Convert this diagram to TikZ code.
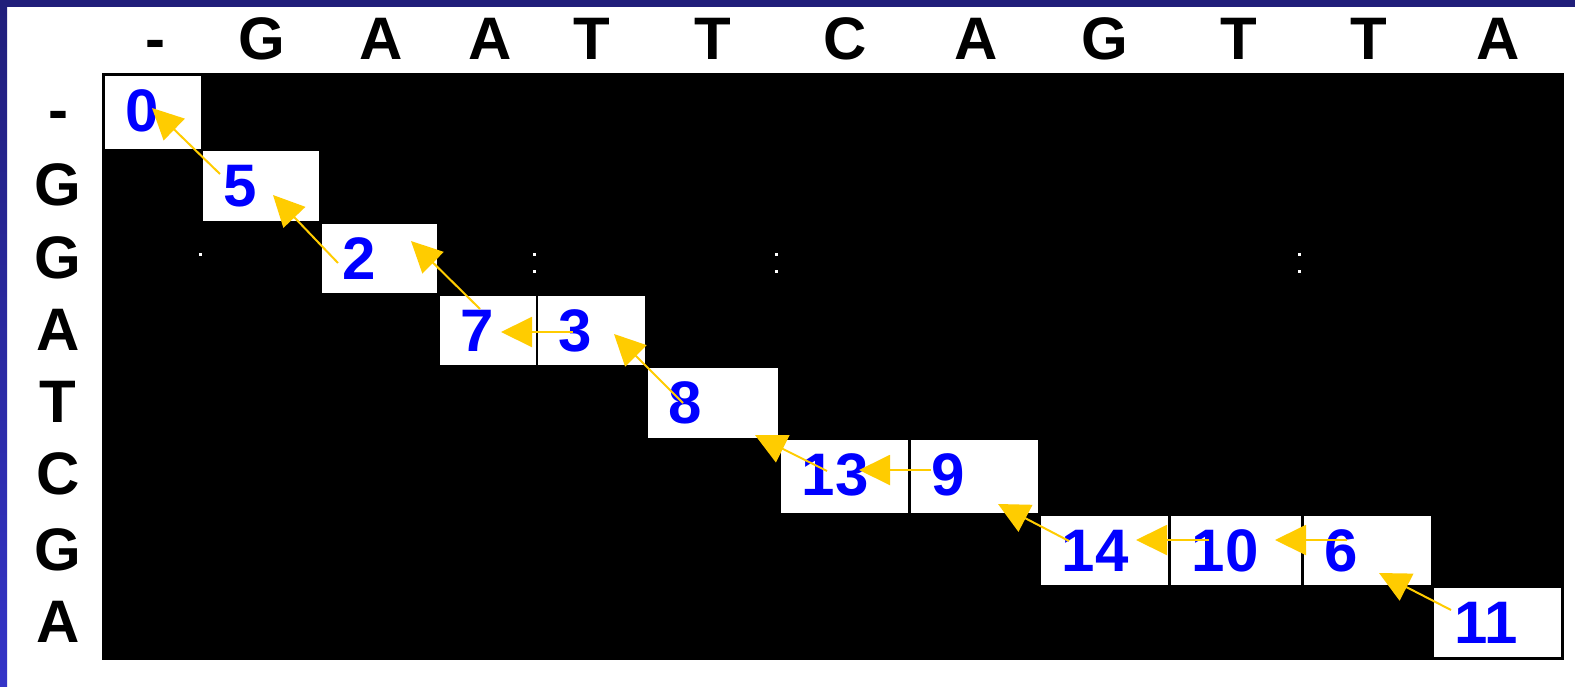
\documentclass[tikz,border=0pt]{standalone}
\usepackage{fontspec}
\setmainfont{Liberation Sans}
\usetikzlibrary{arrows.meta,calc}
\definecolor{arrowyellow}{HTML}{FFCC00}
\definecolor{numblue}{HTML}{0000FF}
\definecolor{navyband}{HTML}{201E7A}
\definecolor{sideblue}{HTML}{3434C8}
\begin{document}
\begin{tikzpicture}[x=1pt,y=-1pt,
  cell/.style={fill=white, draw=none, inner sep=0pt, outer sep=0pt, anchor=north west},
  num/.style={text=numblue, font=\fontsize{60}{72}\selectfont\bfseries, inner sep=0pt, anchor=base west},
  hdr/.style={text=black, font=\fontsize{60}{72}\selectfont\bfseries, inner sep=0pt, anchor=base},
  arr/.style={draw=arrowyellow, line width=2pt, -{Triangle[length=31pt,width=30pt]}},
  dot/.style={fill=white, draw=none}
]
\useasboundingbox (0,0) rectangle (1575,686);
% background and frame
\fill[white] (0,0) rectangle (1575,686);
\fill[navyband] (0,0) rectangle (1575,7);
\shade[top color=navyband, bottom color=sideblue] (0,0) rectangle (7,686);
% matrix background
\fill[black] (102,73) rectangle (1564,660);
% stray dots
\foreach \px/\py in {200/254.5, 534.5/254.5, 534.5/271.5, 776.5/254.5, 776.5/271.5, 1299.5/254.5, 1299.5/271.5}
  \fill[dot] (\px-1.5,\py-1.5) rectangle (\px+1.5,\py+1.5);
% column headers
\foreach \cx/\lab [count=\i] in {155/-, 261.5/G, 381/A, 490.5/A, 592/T, 713/T, 845/C, 976/A, 1104.5/G, 1239/T, 1369/T, 1498/A}
  \node[hdr] (colh\i) at (\cx,59) {\lab};
% row headers
\foreach \ry/\lab [count=\i] in {130/-, 205/G, 278/G, 350/A, 422/T, 494/C, 570/G, 642/A}
  \node[hdr] (rowh\i) at (58,\ry) {\lab};
% cells
\node[cell, minimum width=96pt,  minimum height=73pt] (c0)  at (105,76)   {};
\node[cell, minimum width=116pt, minimum height=70pt] (c5)  at (203,151)  {};
\node[cell, minimum width=115pt, minimum height=69pt] (c2)  at (322,224)  {};
\node[cell, minimum width=96pt,  minimum height=69pt] (c7)  at (440,296)  {};
\node[cell, minimum width=107pt, minimum height=69pt] (c3)  at (538,296)  {};
\node[cell, minimum width=130pt, minimum height=70pt] (c8)  at (648,368)  {};
\node[cell, minimum width=127pt, minimum height=73pt] (c13) at (781,440)  {};
\node[cell, minimum width=127pt, minimum height=73pt] (c9)  at (911,440)  {};
\node[cell, minimum width=127pt, minimum height=69pt] (c14) at (1041,516) {};
\node[cell, minimum width=130pt, minimum height=69pt] (c10) at (1171,516) {};
\node[cell, minimum width=127pt, minimum height=69pt] (c6)  at (1304,516) {};
\node[cell, minimum width=127pt, minimum height=69pt] (c11) at (1434,588) {};
% numbers
\foreach \c/\v in {c0/0, c5/5, c2/2, c7/7, c3/3, c8/8, c13/13, c9/9, c14/14, c10/10, c6/6, c11/11}
  \node[num] (n\c) at ($(\c.north west)+(20.5,55)$) {\v};
% traceback arrows
\draw[arr] ($(c5.north west)+(17,23)$)  -- ($(c0.north west)+(47,32)$);
\draw[arr] ($(c2.north west)+(16,39)$)  -- ($(c5.north west)+(70,44)$);
\draw[arr] ($(c7.north west)+(40,13)$)  -- ($(c2.north west)+(89,17)$);
\draw[arr] ($(c3.north west)+(35,36)$)  -- ($(c7.north west)+(61,36)$);
\draw[arr] ($(c8.north west)+(35,35)$)  -- ($(c3.north west)+(76,38)$);
\draw[arr] ($(c13.north west)+(46,31)$) -- ($(c8.north west)+(107,67)$);
\draw[arr] ($(c9.north west)+(20,30)$)  -- ($(c13.north west)+(78,30)$);
\draw[arr] ($(c14.north west)+(28,25)$) -- ($(c9.north west)+(87,64)$);
\draw[arr] ($(c10.north west)+(38,24)$) -- ($(c14.north west)+(95,24)$);
\draw[arr] ($(c6.north west)+(43,24)$)  -- ($(c10.north west)+(104,24)$);
\draw[arr] ($(c11.north west)+(17,22)$) -- ($(c6.north west)+(75,57)$);
\end{tikzpicture}
\end{document}
